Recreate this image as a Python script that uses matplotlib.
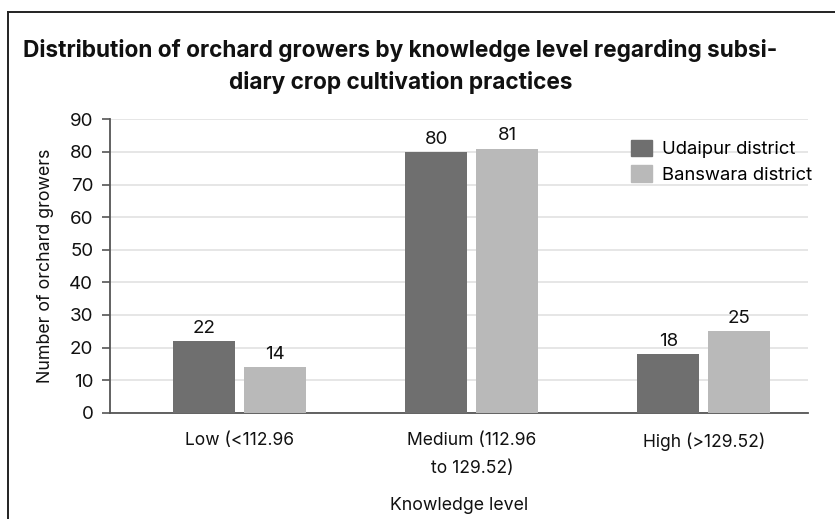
import matplotlib
matplotlib.use("Agg")
import matplotlib.pyplot as plt
from matplotlib.lines import Line2D
from matplotlib.patches import Patch

categories = ["Low (<112.96", "Medium (112.96\nto 129.52)", "High (>129.52)"]
udaipur = [22, 80, 18]
banswara = [14, 81, 25]
series_names = ["Udaipur district", "Banswara district"]
y_ticks = [0, 10, 20, 30, 40, 50, 60, 70, 80, 90]

DARK = "#6f6f6f"
LIGHT = "#b9b9b9"
FONT = "Inter"

plt.rcParams["font.family"] = [FONT, "DejaVu Sans"]

W, H = 835, 519
fig = plt.figure(figsize=(W / 100, H / 100), dpi=100)
fig.patch.set_facecolor("white")

# outer frame (top and left edges visible)
fig.add_artist(Line2D([8 / W, 1.0], [1 - 12 / H, 1 - 12 / H], color="#222222", lw=1.4,
                      transform=fig.transFigure))
fig.add_artist(Line2D([8 / W, 8 / W], [0, 1 - 12 / H], color="#222222", lw=1.4,
                      transform=fig.transFigure))

left, right = 110, 808
top, bottom = 119.3, 412.7
ax = fig.add_axes([left / W, 1 - bottom / H, (right - left) / W, (bottom - top) / H])

x = list(range(len(categories)))
off = 0.153
bw = 0.267
b1 = ax.bar([i - off for i in x], udaipur, width=bw, color=DARK, zorder=3)
b2 = ax.bar([i + off for i in x], banswara, width=bw, color=LIGHT, zorder=3)

for bars, vals in ((b1, udaipur), (b2, banswara)):
    for rect, v in zip(bars, vals):
        ax.text(rect.get_x() + rect.get_width() / 2, v + 1.3, str(v),
                ha="center", va="bottom", fontsize=13.5, color="#111111")

ax.set_xlim(-0.56, 2.45)
ax.set_ylim(0, 90)
ax.set_yticks(y_ticks)
ax.set_yticklabels([str(t) for t in y_ticks], fontsize=13.5, color="#111111")
ax.set_xticks(x)
ax.set_xticklabels(categories, fontsize=12.6, color="#111111", linespacing=1.85)
ax.tick_params(axis="x", length=0, pad=14)
ax.tick_params(axis="y", length=6, width=1.2, color="#555555", pad=6)

ax.grid(axis="y", color="#e2e2e2", lw=1.2, zorder=0)
ax.set_axisbelow(True)
for s in ("top", "right"):
    ax.spines[s].set_visible(False)
for s in ("left", "bottom"):
    ax.spines[s].set_color("#555555")
    ax.spines[s].set_linewidth(1.3)

ax.set_ylabel("Number of orchard growers", fontsize=12.8, color="#111111", labelpad=11)
ax.set_xlabel("Knowledge level", fontsize=12.8, color="#111111", labelpad=14)

handles = [Patch(color=DARK), Patch(color=LIGHT)]
ax.legend(handles, series_names, loc="upper right", bbox_to_anchor=(1.025, 0.975),
          frameon=False, fontsize=13.3, handlelength=1.14, handleheight=0.97,
          handletextpad=0.54, labelspacing=0.4, borderaxespad=0.3)

fig.text(0.5 * (18 + 783) / W, 1 - 50 / H,
         "Distribution of orchard growers by knowledge level regarding subsi-",
         ha="center", va="center", fontsize=16.3, fontweight="bold", color="#111111")
fig.text(0.5 * (18 + 783) / W, 1 - 82 / H, "diary crop cultivation practices",
         ha="center", va="center", fontsize=16.3, fontweight="bold", color="#111111")

fig.savefig("out.png", dpi=100, facecolor="white")
